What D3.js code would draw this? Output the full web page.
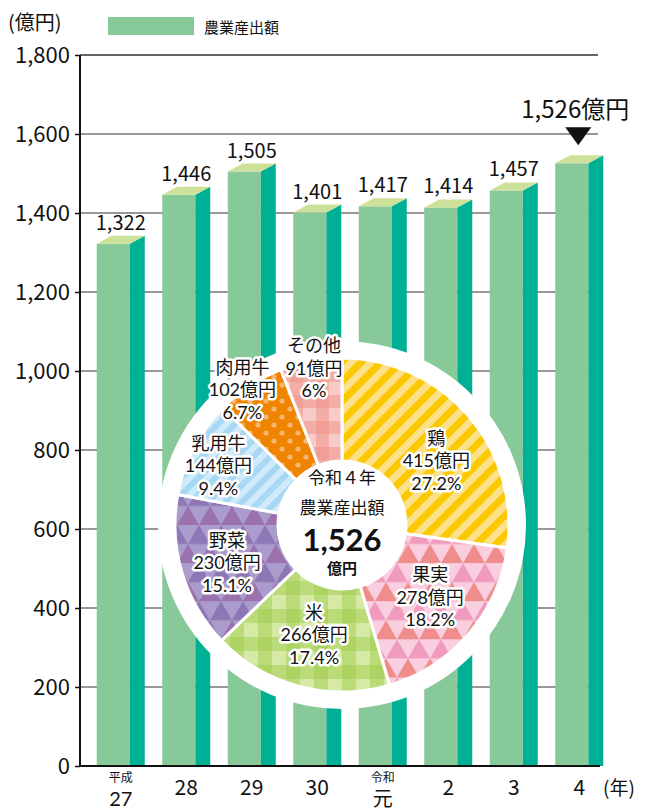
<!DOCTYPE html>
<html>
<head>
<meta charset="utf-8">
<script src="https://cdn.jsdelivr.net/npm/d3@7"></script>
<style>
  body { margin: 0; background: #fff; }
  svg text { font-family: "Noto Sans CJK JP", "Noto Sans", sans-serif; fill: #111; }
  svg text.tight { font-family: Lato, "Noto Sans CJK JP", sans-serif; }
  .halo { paint-order: stroke; stroke: #fff; stroke-width: 5px; stroke-linejoin: round; }
</style>
</head>
<body>
<script>
// bar data
const years = ['平成\n27', '28', '29', '30', '令和\n元', '2', '3', '4']
const output = [1322, 1446, 1505, 1401, 1417, 1414, 1457, 1526]
const yTicks = [0, 200, 400, 600, 800, 1000, 1200, 1400, 1600, 1800]

// donut data (令和4年)
const crops = ['鶏', '果実', '米', '野菜', '乳用牛', '肉用牛', 'その他']
const cropValues = [415, 278, 266, 230, 144, 102, 91]
const cropShares = ['27.2%', '18.2%', '17.4%', '15.1%', '9.4%', '6.7%', '6%']

const w = 653
const h = 812

const svg = d3.select('body').append('svg')
    .attr('width', w)
    .attr('height', h)

const y = d3.scaleLinear().domain([0, 1800]).range([766, 55])
const x = d3.scaleBand().domain(years).range([88, 612]).paddingInner(0.267).paddingOuter(0.1335)

const frontW = x.bandwidth() * 0.69
const sideW = x.bandwidth() - frontW
const rise = 8

// patterns
const defs = svg.append('defs')

const stripes = (id, base, light, size) => {
    const p = defs.append('pattern').attr('id', id).attr('patternUnits', 'userSpaceOnUse')
        .attr('width', size).attr('height', size).attr('patternTransform', 'rotate(45)')
    p.append('rect').attr('width', size).attr('height', size).attr('fill', base)
    p.append('rect').attr('width', size / 2).attr('height', size).attr('fill', light)
}
stripes('p-chicken', '#fcc800', '#fde08a', 14)
stripes('p-dairy', '#a6d8f2', '#cfeafa', 12)

const gingham = (id, base, band, size) => {
    const p = defs.append('pattern').attr('id', id).attr('patternUnits', 'userSpaceOnUse')
        .attr('width', size).attr('height', size)
    p.append('rect').attr('width', size).attr('height', size).attr('fill', base)
    p.append('rect').attr('width', size / 2).attr('height', size).attr('fill', band).attr('opacity', 0.5)
    p.append('rect').attr('width', size).attr('height', size / 2).attr('fill', band).attr('opacity', 0.5)
}
gingham('p-rice', '#d6eaa6', '#9fcb4c', 28)
gingham('p-other', '#f8cbc8', '#ee8f86', 26)

const triangles = (id, base, c1, c2, s) => {
    const th = s * 0.866
    const p = defs.append('pattern').attr('id', id).attr('patternUnits', 'userSpaceOnUse')
        .attr('width', s).attr('height', th * 2)
    p.append('rect').attr('width', s).attr('height', th * 2).attr('fill', base)
    p.append('path').attr('fill', c1)
        .attr('d', `M0,${th} L${s / 2},0 L${s},${th} Z`)
    p.append('path').attr('fill', c2)
        .attr('d', `M${-s / 2},${th * 2} L0,${th} L${s / 2},${th * 2} Z M${s / 2},${th * 2} L${s},${th} L${s * 1.5},${th * 2} Z`)
}
triangles('p-fruit', '#f9cfe0', '#f09bbd', '#ef8c8c', 22)
triangles('p-veg', '#aa9dcd', '#8d77b4', '#9b72ad', 22)

const dots = defs.append('pattern').attr('id', 'p-beef').attr('patternUnits', 'userSpaceOnUse')
    .attr('width', 16).attr('height', 16)
dots.append('rect').attr('width', 16).attr('height', 16).attr('fill', '#ef8400')
dots.append('circle').attr('cx', 4).attr('cy', 4).attr('r', 2.6).attr('fill', '#f8b672')
dots.append('circle').attr('cx', 12).attr('cy', 12).attr('r', 2.6).attr('fill', '#f8b672')

const cropFill = ['p-chicken', 'p-fruit', 'p-rice', 'p-veg', 'p-dairy', 'p-beef', 'p-other']

// gridlines
svg.append('g').selectAll('line')
    .data(yTicks.filter(d => d > 0))
    .enter()
    .append('line')
    .attr('x1', 80).attr('x2', 598)
    .attr('y1', d => y(d)).attr('y2', d => y(d))
    .attr('stroke', '#333')
    .attr('stroke-width', d => d === 1800 ? 1.5 : 1)

// bars
const bars = svg.append('g').selectAll('g')
    .data(years.map((d, i) => ({ year: d, value: output[i] })))
    .enter()
    .append('g')

bars.append('rect')
    .attr('x', d => x(d.year))
    .attr('y', d => y(d.value))
    .attr('width', frontW)
    .attr('height', d => y(0) - y(d.value))
    .attr('fill', '#88c999')

bars.append('path')
    .attr('fill', '#00b094')
    .attr('d', d => {
        const x1 = x(d.year) + frontW
        const t = y(d.value)
        return `M${x1},${t} L${x1 + sideW},${t - rise} L${x1 + sideW},${y(0)} L${x1},${y(0)} Z`
    })

bars.append('path')
    .attr('fill', '#cde19a')
    .attr('d', d => {
        const x0 = x(d.year)
        const t = y(d.value)
        return `M${x0},${t} L${x0 + sideW},${t - rise} L${x0 + frontW + sideW},${t - rise} L${x0 + frontW},${t} Z`
    })

bars.filter((d, i) => i < years.length - 1)
    .append('text')
    .attr('x', d => x(d.year) + x.bandwidth() / 2)
    .attr('y', d => y(d.value) - 14)
    .attr('text-anchor', 'middle')
    .style('font-size', '20px')
    .text(d => d3.format(',')(d.value))

// highlighted last bar
const last = years[years.length - 1]
const lastX = x(last) + x.bandwidth() / 2
const lastTop = y(output[output.length - 1]) - rise
svg.append('path')
    .attr('fill', '#111')
    .attr('d', `M${lastX - 14},${lastTop - 28} L${lastX + 12},${lastTop - 28} L${lastX - 1},${lastTop - 10} Z`)
svg.append('text')
    .attr('x', lastX - 4)
    .attr('y', lastTop - 37)
    .attr('text-anchor', 'middle')
    .style('font-size', '24px')
    .text(d3.format(',')(output[output.length - 1]) + '億円')

// axes
const yAxis = svg.append('g')
    .attr('transform', 'translate(80,0)')
    .call(d3.axisLeft(y).tickValues(yTicks).tickFormat(d3.format(',')).tickSize(5).tickPadding(5))
yAxis.select('.domain').attr('stroke', '#111').attr('stroke-width', 2)
    .attr('d', `M0,${y(1800)} V${y(0)}`)
yAxis.selectAll('.tick line').attr('stroke', '#111').attr('stroke-width', 1.5)
yAxis.selectAll('.tick text')
    .style('font-size', '22px')
    .style('font-family', '"Noto Sans CJK JP", sans-serif')
    .attr('fill', '#111')

svg.append('line')
    .attr('x1', 79).attr('x2', 600)
    .attr('y1', y(0)).attr('y2', y(0))
    .attr('stroke', '#111').attr('stroke-width', 2)

// year labels
const xLab = svg.append('g').selectAll('text')
    .data(years)
    .enter()
    .append('text')
    .attr('text-anchor', 'middle')
    .attr('transform', d => `translate(${x(d) + x.bandwidth() / 2},0)`)

xLab.each(function (d) {
    const t = d3.select(this)
    const parts = d.split('\n')
    if (parts.length === 2) {
        t.attr('class', 'tight')
        t.append('tspan').attr('x', 0).attr('y', 782).style('font-size', '12px').text(parts[0])
        t.append('tspan').attr('x', 0).attr('y', 806).style('font-size', '20px').text(parts[1])
    } else {
        t.attr('y', 795).style('font-size', '21px').text(parts[0])
    }
})

svg.append('text').attr('x', 603).attr('y', 795).style('font-size', '19px').text('(年)')
svg.append('text').attr('x', 8).attr('y', 30).style('font-size', '20px').text('(億円)')

// legend
svg.append('rect').attr('x', 108).attr('y', 17).attr('width', 86).attr('height', 18).attr('fill', '#88c999')
svg.append('text').attr('x', 204).attr('y', 33).style('font-size', '15px').text('農業産出額')

// donut
const cx = 342
const cy = 525
const donut = svg.append('g').attr('transform', `translate(${cx},${cy})`)

donut.append('circle').attr('r', 184).attr('fill', '#fff')

const pie = d3.pie().sort(null).value(d => d.value)
const slices = pie(crops.map((d, i) => ({ name: d, value: cropValues[i], share: cropShares[i], fill: cropFill[i] })))
const arc = d3.arc().innerRadius(64).outerRadius(167)

donut.selectAll('path.slice')
    .data(slices)
    .enter()
    .append('path')
    .attr('class', 'slice')
    .attr('d', arc)
    .attr('fill', d => `url(#${d.data.fill})`)
    .attr('stroke', '#fff')
    .attr('stroke-width', 3)

// label spots, relative to centre (radius, angle tweak per slice)
const labelR = [114, 114, 113, 121, 137, 168, 159]
const labelShift = [0.12, -0.024, -0.01, -0.027, -0.034, -0.05, 0.01]
donut.selectAll('text.lab')
    .data(slices)
    .enter()
    .append('text')
    .attr('class', 'lab halo tight')
    .attr('text-anchor', 'middle')
    .style('font-size', '18px')
    .attr('transform', (d, i) => {
        const a = (d.startAngle + d.endAngle) / 2 + labelShift[i]
        return `translate(${Math.sin(a) * labelR[i]},${-Math.cos(a) * labelR[i]})`
    })
    .each(function (d) {
        const t = d3.select(this)
        const lines = [d.data.name, d.data.value + '億円', d.data.share]
        lines.forEach((s, k) => {
            t.append('tspan').attr('x', 0).attr('y', -16 + k * 22.5).text(s)
        })
    })

const centre = donut.append('text').attr('class', 'tight').attr('text-anchor', 'middle')
centre.append('tspan').attr('x', 0).attr('y', -41).style('font-size', '17px').text('令和４年')
centre.append('tspan').attr('x', 0).attr('y', -11).style('font-size', '17px').text('農業産出額')
centre.append('tspan').attr('x', 0).attr('y', 26)
    .style('font-size', '31px').style('font-weight', 'bold').text('1,526')
centre.append('tspan').attr('x', 0).attr('y', 49)
    .style('font-size', '15px').style('font-weight', 'bold').text('億円')
</script>
</body>
</html>
